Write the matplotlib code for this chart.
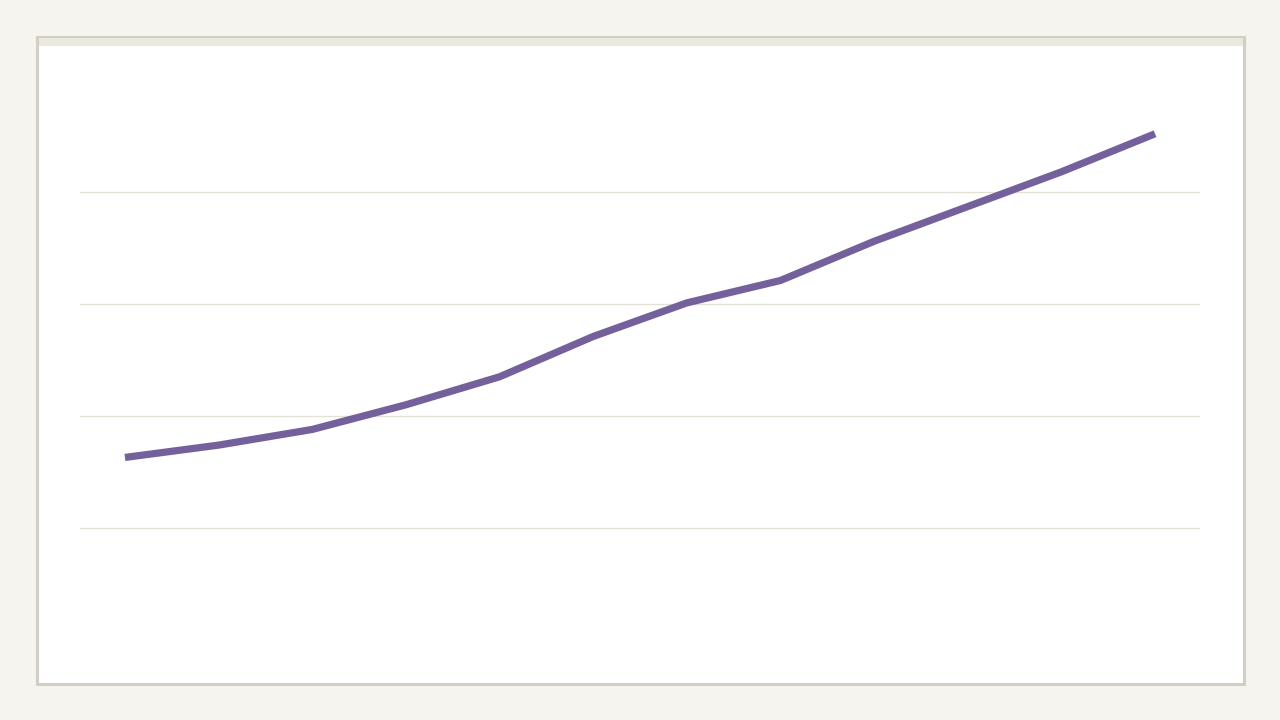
import matplotlib.pyplot as plt
from matplotlib.patches import Rectangle

# valeurs (12 points, pas d'etiquettes visibles)
periodes = list(range(12))
valeurs = [1.63, 1.74, 1.88, 2.10, 2.35, 2.71, 3.01, 3.21, 3.56, 3.87, 4.18, 4.52]
grille = [1, 2, 3, 4]

W, H = 1280, 720
fig = plt.figure(figsize=(12.8, 7.2), dpi=100)
fig.patch.set_facecolor('#f5f4ef')

# panneau blanc avec bordure et bandeau en haut (sous les axes)
fig.patches.append(Rectangle((37 / W, 1 - 684 / H), 1207 / W, 647 / H,
                             transform=fig.transFigure, facecolor='white',
                             edgecolor='#d3cfc5', linewidth=2.2, zorder=-2))
fig.patches.append(Rectangle((38.5 / W, 1 - 45.5 / H), 1204 / W, 7.5 / H,
                             transform=fig.transFigure, facecolor='#ebe8df',
                             edgecolor='none', zorder=-1))

ax = fig.add_axes([80 / W, 1 - 640 / H, 1120 / W, 560 / H])
ax.set_facecolor('none')
for y in grille:
    ax.axhline(y, color='#e3e1d6', linewidth=1, zorder=1)

ax.plot(periodes, valeurs, color='#74609b', linewidth=5.2,
        solid_joinstyle='round', solid_capstyle='butt', zorder=2)

ax.set_xlim(-0.48, 11.48)
ax.set_ylim(0, 5)
ax.set_xticks([])
ax.set_yticks([])
for s in ax.spines.values():
    s.set_visible(False)

fig.savefig('out.png', dpi=100, facecolor=fig.get_facecolor())
